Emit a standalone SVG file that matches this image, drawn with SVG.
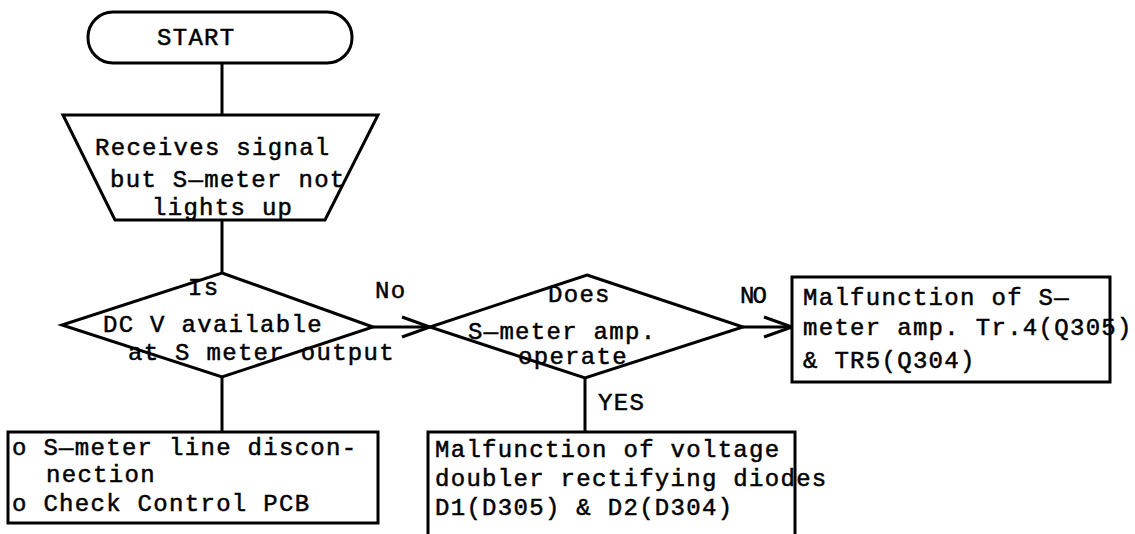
<svg xmlns="http://www.w3.org/2000/svg" width="1135" height="534" viewBox="0 0 1135 534">
  <style>
    .shape { fill: none; stroke: #000; stroke-width: 3; stroke-linejoin: miter; }
    .conn { fill: none; stroke: #000; stroke-width: 3; }
    text { font-family: "Liberation Mono", "DejaVu Sans Mono", monospace; font-size: 24px; letter-spacing: 1.3px; fill: #000; stroke: #000; stroke-width: 0.5; }
  </style>
  <defs>
    <marker id="open" viewBox="0 0 30 24" refX="29" refY="12" markerWidth="30" markerHeight="24" markerUnits="userSpaceOnUse" orient="auto">
      <path d="M1,2 L29,12 L1,22" fill="none" stroke="#000" stroke-width="3"/>
    </marker>
  </defs>
  <rect width="1135" height="534" fill="#fff"/>

  <g id="connectors">
    <line class="conn" x1="222" y1="63" x2="222" y2="115"/>
    <line class="conn" x1="222" y1="220" x2="222" y2="273"/>
    <line class="conn" x1="222" y1="377" x2="222" y2="432"/>
    <line class="conn" x1="373" y1="327" x2="430" y2="327" marker-end="url(#open)"/>
    <line class="conn" x1="743" y1="327" x2="792" y2="327" marker-end="url(#open)"/>
    <line class="conn" x1="585" y1="378" x2="585" y2="432"/>
    <text x="375" y="298">No</text>
    <text x="740" y="303" style="letter-spacing:-2px">NO</text>
    <text x="598" y="410">YES</text>
  </g>

  <g id="start">
    <rect class="shape" x="88" y="12" width="264" height="51" rx="25" ry="25"/>
    <text x="157" y="45">START</text>
  </g>

  <g id="input">
    <polygon class="shape" points="63,115 378,115 325,220 115,220"/>
    <text x="95" y="155">Receives signal</text>
    <text x="110" y="187">but S—meter not</text>
    <text x="152" y="215">lights up</text>
  </g>

  <g id="decision1">
    <polygon class="shape" points="222,273 373,327 222,377 62,325"/>
    <text x="188" y="295">Is</text>
    <text x="103" y="332">DC V available</text>
    <text x="128" y="360">at S meter output</text>
  </g>

  <g id="decision2">
    <polygon class="shape" points="587,275 743,327 585,378 430,327"/>
    <text x="548" y="302">Does</text>
    <text x="468" y="339">S—meter amp.</text>
    <text x="518" y="364">operate</text>
  </g>

  <g id="box-line">
    <rect class="shape" x="8" y="432" width="370" height="91"/>
    <text x="12" y="455">o S—meter line discon-</text>
    <text x="46" y="482">nection</text>
    <text x="12" y="511">o Check Control PCB</text>
  </g>

  <g id="box-diodes">
    <path class="shape" d="M428,534 V432 H795 V534"/>
    <text x="435" y="457">Malfunction of voltage</text>
    <text x="435" y="486">doubler rectifying diodes</text>
    <text x="435" y="515">D1(D305) &amp; D2(D304)</text>
  </g>

  <g id="box-amp">
    <rect class="shape" x="792" y="277" width="318" height="105"/>
    <text x="803" y="305">Malfunction of S—</text>
    <text x="803" y="335">meter amp. Tr.4(Q305)</text>
    <text x="803" y="368">&amp; TR5(Q304)</text>
  </g>
</svg>
